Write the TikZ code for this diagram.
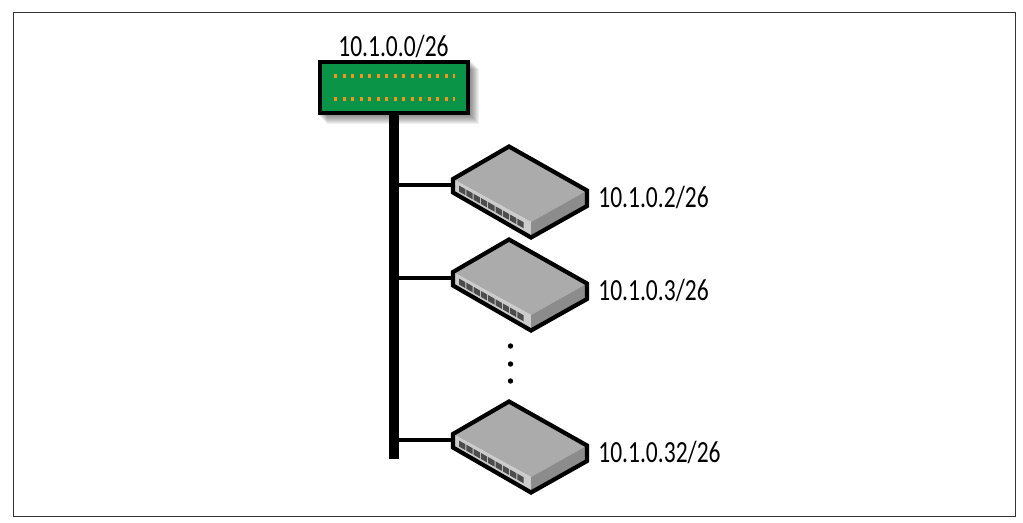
\documentclass[tikz,border=0pt]{standalone}
\usepackage{fontspec}
\usepackage{xcolor}
\setmainfont[FakeStretch=0.765]{Carlito}
\usetikzlibrary{positioning}
\definecolor{routergreen}{HTML}{0A9448}
\definecolor{portorange}{HTML}{F7941E}
\tikzset{
  netlabel/.style={font=\fontsize{17.5}{19}\selectfont, inner sep=0pt, anchor=west},
  routerbox/.style={draw=black, line width=4*0.02cm, fill=routergreen, minimum width=148*0.02cm, minimum height=51*0.02cm, inner sep=0pt},
  portrow/.style={portorange, line width=3.2*0.02cm, dash pattern=on 3*0.02cm off 5.5*0.02cm},
  busline/.style={line width=10*0.02cm},
  tapline/.style={line width=3.2*0.02cm},
  switch/.pic={
    \fill[black!33] (-56,34) -- (0,1.5) -- (78,45.5) -- (22,77) -- cycle;
    \fill[black!20] (-56,34) -- (22,77) -- (22,92.5) -- (-56,47.5) -- cycle;
    \fill[black!45] (22,77) -- (78,45.5) -- (78,61) -- (22,92.5) -- cycle;
    \foreach \i in {0,...,8}
      \fill[black!70] (-50+7.3*\i,40.5+4.15*\i) -- ++(6.3,3.6) -- ++(0,6) -- ++(-6.3,-3.6) -- cycle;
    \draw[black, line width=4.2*0.02cm, line join=miter] (-56,34) -- (0,1.5) -- (78,45.5) -- (78,61) -- (22,92.5) -- (-56,47.5) -- cycle;
    \coordinate (-port) at (-56,40);
  }
}
\begin{document}
\begin{tikzpicture}[x=0.02cm, y=-0.02cm]
\useasboundingbox (0,0) rectangle (1023,522);
\draw[line width=0.02cm, draw=black!80] (13.5,12.5) rectangle (1015.5,516.5);

% shadow of the router
\foreach \d in {1,2,...,9}
  \fill[black, opacity=0.06] (318+\d,60+\d) rectangle (470+\d,115+\d);
\node[routerbox] (router) at (394,87.5) {};
\draw[portrow] (334,76) -- (455,76);
\draw[portrow] (334,99) -- (455,99);
\node[netlabel, anchor=south] (routerlabel) at (393.5,58) {10.1.0.0/26};

\coordinate (busend) at (393.5,459);
\draw[busline] (router.south -| busend) -- (busend);

\pic (swa) at (509,145) {switch};
\pic (swb) at (509,238) {switch};
\pic (swc) at (509,400) {switch};

\draw[tapline] (swa-port) -- (swa-port -| busend);
\draw[tapline] (swb-port) -- (swb-port -| busend);
\draw[tapline] (swc-port) -- (swc-port -| busend);

\node[netlabel] (swalabel) at (598,197) {10.1.0.2/26};
\node[netlabel] (swblabel) at (598,290) {10.1.0.3/26};
\node[netlabel] (swclabel) at (598,452) {10.1.0.32/26};

\foreach \y in {346,364,381}
  \fill (510.5,\y) circle (2.7);
\end{tikzpicture}
\end{document}
